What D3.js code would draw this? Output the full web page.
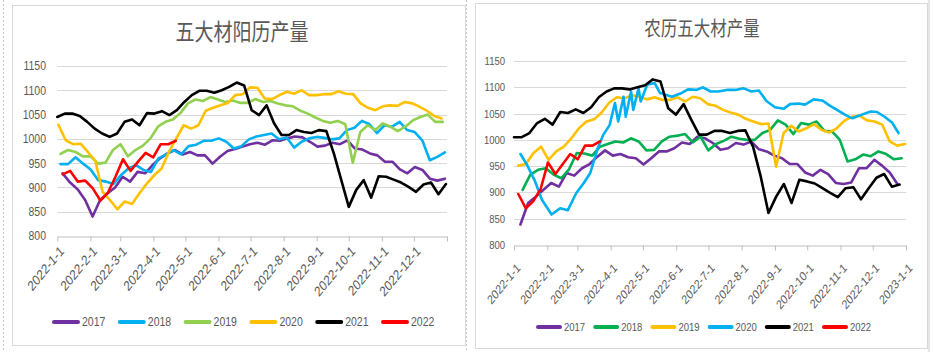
<!DOCTYPE html>
<html>
<head>
<meta charset="utf-8">
<script src="https://cdn.jsdelivr.net/npm/d3@7"></script>
<style>
body { margin: 0; background: #fff; }
svg text { font-family: "Liberation Sans", Arial, sans-serif; fill: #595959; }
svg text.title { font-family: "Noto Sans CJK SC", sans-serif; }
</style>
</head>
<body>
<svg id="chart" width="934" height="352"></svg>
<script>

// ---- data ----
var years = ["2017", "2018", "2019", "2020", "2021", "2022"];
var yTicks = [800, 850, 900, 950, 1000, 1050, 1100, 1150];
var monthTicks = ["2022-1-1", "2022-2-1", "2022-3-1", "2022-4-1", "2022-5-1", "2022-6-1",
                  "2022-7-1", "2022-8-1", "2022-9-1", "2022-10-1", "2022-11-1", "2022-12-1", "2023-1-1"];

// solar calendar chart (五大材阳历产量), weekly values
var solar2017 = [929, 910, 896, 874, 840, 874, 888, 900, 922, 912, 932, 929, 946, 960, 970, 977, 968, 973, 966, 966,
                 949, 963, 975, 979, 984, 989, 992, 988, 997, 996, 1001, 1005, 1003, 994, 984, 986, 992, 989, 997, 980,
                 978, 970, 966, 953, 953, 937, 929, 942, 936, 918, 914, 918];
var solar2018 = [948, 948, 962, 949, 937, 915, 912, 907, 925, 939, 946, 936, 932, 960, 968, 977, 968, 985, 988, 996,
                 996, 1001, 994, 980, 985, 999, 1005, 1008, 1011, 999, 1003, 982, 994, 1001, 1004, 1002, 999, 1001, 1018, 1023,
                 1037, 1030, 1012, 1028, 1025, 1035, 1018, 1014, 997, 956, 963, 972];
var solar2019 = [969, 977, 973, 964, 964, 949, 951, 977, 989, 964, 977, 986, 1001, 1025, 1035, 1040, 1053, 1073, 1081, 1078,
                 1086, 1081, 1076, 1079, 1074, 1074, 1082, 1076, 1078, 1073, 1069, 1067, 1058, 1052, 1044, 1037, 1033, 1037, 1030, 951,
                 1014, 1028, 1018, 1032, 1025, 1016, 1025, 1038, 1045, 1050, 1035, 1035];
var solar2020 = [1029, 997, 989, 990, 973, 955, 891, 874, 855, 871, 866, 888, 908, 925, 939, 973, 1001, 1028, 1021, 1028,
                 1058, 1064, 1069, 1074, 1090, 1092, 1106, 1105, 1083, 1082, 1090, 1097, 1093, 1100, 1090, 1090, 1092, 1092, 1098, 1093,
                 1092, 1073, 1064, 1059, 1067, 1069, 1068, 1076, 1073, 1066, 1058, 1047, 1042];
var solar2021 = [1045, 1052, 1052, 1047, 1035, 1021, 1011, 1004, 1011, 1035, 1040, 1028, 1053, 1052, 1057, 1049, 1059, 1076, 1090, 1099,
                 1099, 1095, 1100, 1107, 1116, 1110, 1059, 1049, 1069, 1032, 1008, 1008, 1018, 1014, 1012, 1018, 1016, 970, 915, 860,
                 895, 915, 879, 923, 922, 916, 910, 901, 891, 906, 910, 886, 907];
var solar2022 = [927, 934, 912, 914, 898, 873, 889, 922, 958, 934, 953, 971, 962, 989, 989, 996];
var solarFirst = ["2022-1-6", "2022-1-4", "2022-1-4", "2022-1-2", "2022-1-1", "2022-1-6"];
var solarLast = ["2022-12-30", "2022-12-30", "2022-12-28", "2022-12-27", "2022-12-31", "2022-4-22"];

// lunar calendar chart (农历五大材产量)
var lunar2017 = [839, 880, 892, 905, 918, 911, 937, 932, 946, 954, 968, 980, 970, 973, 967, 965, 953, 965, 978, 978,
                 984, 995, 992, 1006, 1003, 994, 981, 984, 994, 991, 997, 982, 978, 970, 965, 954, 954, 938, 932, 943,
                 935, 918, 916, 919, 946, 946, 962, 951, 938, 916];
var lunar2018 = [905, 934, 943, 946, 934, 927, 944, 975, 974, 970, 987, 992, 997, 995, 1003, 997, 980, 981, 997, 1006,
                 1008, 1011, 995, 1006, 980, 992, 998, 1006, 1002, 1000, 1000, 1013, 1019, 1037, 1029, 1011, 1032, 1029, 1035, 1017,
                 1016, 1000, 959, 963, 972, 969, 978, 973, 963, 965];
var lunar2019 = [951, 954, 975, 987, 962, 978, 987, 1003, 1022, 1035, 1039, 1052, 1071, 1081, 1079, 1085, 1082, 1077, 1081, 1076,
                 1076, 1081, 1073, 1082, 1079, 1068, 1065, 1057, 1052, 1048, 1040, 1035, 1030, 1031, 949, 1013, 1027, 1016, 1022, 1030,
                 1019, 1014, 1022, 1036, 1044, 1046, 1037, 1035, 1029, 997, 989, 992];
var lunar2020 = [973, 953, 924, 886, 858, 870, 866, 899, 918, 937, 984, 1009, 1028, 1070, 1035, 1082, 1044, 1092, 1057, 1098,
                 1073, 1105, 1108, 1089, 1082, 1088, 1096, 1095, 1100, 1092, 1092, 1095, 1095, 1098, 1092, 1094, 1074, 1062, 1059, 1068,
                 1069, 1067, 1077, 1075, 1065, 1058, 1048, 1041, 1048, 1054, 1053, 1044, 1033, 1013];
// 2020 lunar points are not evenly spaced (days after 2022-1-1)
var lunarDays2020 = [6, 12, 19, 26, 35, 43, 50, 58, 65, 71, 78, 83, 89, 94, 97, 102, 104, 109, 111, 116,
                     118, 124, 131, 136, 147, 155, 162, 170, 176, 183, 190, 198, 206, 214, 221, 228, 235, 243, 251, 257,
                     265, 271, 279, 287, 294, 300, 308, 315, 324, 332, 338, 345, 352, 358];
var lunar2021 = [1005, 1005, 1013, 1032, 1040, 1029, 1053, 1051, 1058, 1051, 1062, 1081, 1092, 1098, 1098, 1096, 1100, 1104, 1115, 1111,
                 1060, 1048, 1068, 1038, 1010, 1010, 1017, 1017, 1013, 1017, 1018, 987, 930, 861, 892, 916, 880, 924, 921, 917,
                 908, 899, 891, 908, 910, 887, 908, 928, 935, 911, 915];
var lunar2022 = [897, 870, 883, 906, 957, 935, 954, 973, 963, 989, 989, 997];
var lunarFirst = ["2022-1-7", "2022-1-9", "2022-1-5", null, "2022-1-1", "2022-1-5"];
var lunarLast = ["2022-12-24", "2022-12-28", "2022-12-31", null, "2022-12-26", "2022-3-22"];

var solarColors = ["#7030A0", "#00B0F0", "#92D050", "#FFC000", "#000000", "#FF0000"];
var lunarColors = ["#7030A0", "#00B050", "#FFC000", "#00B0F0", "#000000", "#FF0000"];

// ---- drawing ----
var SY = 1.22;   // the reference picture is a bit stretched vertically
var parseDate = d3.timeParse("%Y-%m-%d");
var day0 = parseDate("2022-1-1");

var svg = d3.select("#chart");

function makeSeries(values, first, last, days) {
  if (days) {
    return values.map(function(v, i) { return { date: d3.timeDay.offset(day0, days[i]), value: v }; });
  }
  var t = d3.scaleLinear().domain([0, values.length - 1])
            .range([parseDate(first).getTime(), parseDate(last).getTime()]);
  return values.map(function(v, i) { return { date: new Date(t(i)), value: v }; });
}

function drawPanel(cfg) {
  var g = svg.append("g");

  // frame
  g.append("rect")
    .attr("x", cfg.frame[0]).attr("y", cfg.frame[1])
    .attr("width", cfg.frame[2]).attr("height", cfg.frame[3])
    .attr("fill", "#fff").attr("stroke", "#d9d9d9").attr("stroke-width", 1);

  var x = d3.scaleTime()
            .domain([day0, parseDate("2023-1-1")])
            .range([cfg.left, cfg.right]);
  var y = d3.scaleLinear()
            .domain([800, 1150])
            .range([cfg.bottom, cfg.top]);

  // title
  g.append("text")
    .attr("class", "title")
    .attr("transform", "translate(" + cfg.titleX + "," + cfg.titleY + ") scale(1," + SY + ")")
    .attr("text-anchor", "middle")
    .attr("dy", "0.35em")
    .style("font-size", cfg.titleSize + "px")
    .text(cfg.title);

  // grid lines
  g.append("g").selectAll("line")
    .data(yTicks.slice(1))
    .enter().append("line")
      .attr("x1", cfg.left).attr("x2", cfg.right)
      .attr("y1", function(d) { return Math.round(y(d)) + 0.5; })
      .attr("y2", function(d) { return Math.round(y(d)) + 0.5; })
      .attr("stroke", "#d9d9d9").attr("stroke-width", 1);

  // y labels
  g.append("g").selectAll("text")
    .data(yTicks)
    .enter().append("text")
      .attr("transform", function(d) { return "translate(" + cfg.yLabelX + "," + y(d) + ") scale(1," + SY + ")"; })
      .attr("text-anchor", "end")
      .attr("dy", "0.35em")
      .style("font-size", cfg.yFont + "px")
      .text(function(d) { return d; });

  // x axis
  var tickDates = monthTicks.map(parseDate);
  var axis = g.append("g")
    .attr("transform", "translate(0," + (Math.round(cfg.bottom) + 0.5) + ")")
    .call(d3.axisBottom(x)
      .tickValues(tickDates)
      .tickSize(5)
      .tickSizeOuter(0)
      .tickFormat(function(d, i) { return i < cfg.xLabels ? monthTicks[i] : ""; }));
  axis.select(".domain").attr("stroke", "#bfbfbf");
  axis.selectAll(".tick line").attr("stroke", "#bfbfbf");
  axis.selectAll(".tick text")
    .attr("x", null).attr("y", null).attr("dy", "0.35em")
    .attr("transform", "translate(" + cfg.xLabelDx + "," + cfg.xLabelDy + ") scale(1," + SY + ") rotate(-45)")
    .attr("text-anchor", "end")
    .style("font-size", cfg.xFont + "px")
    .style("font-family", "Liberation Sans, Arial, sans-serif")
    .attr("fill", "#595959");

  // lines
  var line = d3.line()
    .x(function(d) { return x(d.date); })
    .y(function(d) { return y(d.value); });

  g.append("g").selectAll("path")
    .data(cfg.series)
    .enter().append("path")
      .attr("d", function(s) { return line(s.points); })
      .attr("fill", "none")
      .attr("stroke", function(s) { return s.color; })
      .attr("stroke-width", 2.6)
      .attr("stroke-linejoin", "round")
      .attr("stroke-linecap", "round");

  // legend
  var leg = g.append("g").selectAll("g")
    .data(cfg.series)
    .enter().append("g")
      .attr("transform", function(s, i) { return "translate(" + (cfg.legendX + i * cfg.legendStep) + "," + cfg.legendY + ")"; });
  leg.append("line")
    .attr("x1", 1).attr("x2", cfg.legendLine - 1)
    .attr("stroke", function(s) { return s.color; })
    .attr("stroke-width", 4)
    .attr("stroke-linecap", "round");
  leg.append("text")
    .attr("transform", "translate(" + (cfg.legendLine + 3) + ",0) scale(1," + SY + ")")
    .attr("dy", "0.35em")
    .style("font-size", cfg.legendFont + "px")
    .text(function(s) { return s.name; });
}

// outer dashed guides around the left picture
svg.append("line").attr("x1", 3.5).attr("x2", 3.5).attr("y1", 0).attr("y2", 352)
  .attr("stroke", "#c8c8c8").attr("stroke-dasharray", "2,2");
svg.append("line").attr("x1", 466.5).attr("x2", 466.5).attr("y1", 0).attr("y2", 352)
  .attr("stroke", "#c8c8c8").attr("stroke-dasharray", "2,2");

var solarValues = [solar2017, solar2018, solar2019, solar2020, solar2021, solar2022];
drawPanel({
  frame: [12.5, 5.5, 453, 340],
  title: "五大材阳历产量", titleX: 242, titleY: 32, titleSize: 19,
  left: 57.3, right: 447, top: 66, bottom: 236,
  yLabelX: 46, yFont: 10.5,
  xLabels: 12, xFont: 11.5, xLabelDx: 4, xLabelDy: 12,
  legendX: 53, legendStep: 65.8, legendY: 322, legendLine: 26, legendFont: 10.5,
  series: years.map(function(yr, i) {
    return { name: yr, color: solarColors[i], points: makeSeries(solarValues[i], solarFirst[i], solarLast[i]) };
  })
});

var lunarValues = [lunar2017, lunar2018, lunar2019, lunar2020, lunar2021, lunar2022];
drawPanel({
  frame: [475.5, 3.5, 452, 345],
  title: "农历五大材产量", titleX: 702, titleY: 29, titleSize: 16.5,
  left: 514, right: 906, top: 61, bottom: 245,
  yLabelX: 505, yFont: 9.5,
  xLabels: 13, xFont: 10.5, xLabelDx: 4, xLabelDy: 20,
  legendX: 537, legendStep: 57.2, legendY: 327, legendLine: 24, legendFont: 9.5,
  series: years.map(function(yr, i) {
    return { name: yr, color: lunarColors[i],
             points: makeSeries(lunarValues[i], lunarFirst[i], lunarLast[i], i === 3 ? lunarDays2020 : null) };
  })
});

// grey strip on the right edge of the second picture
svg.append("rect").attr("x", 928).attr("y", 0).attr("width", 2).attr("height", 352).attr("fill", "#e6e6e6");

</script>
</body>
</html>
